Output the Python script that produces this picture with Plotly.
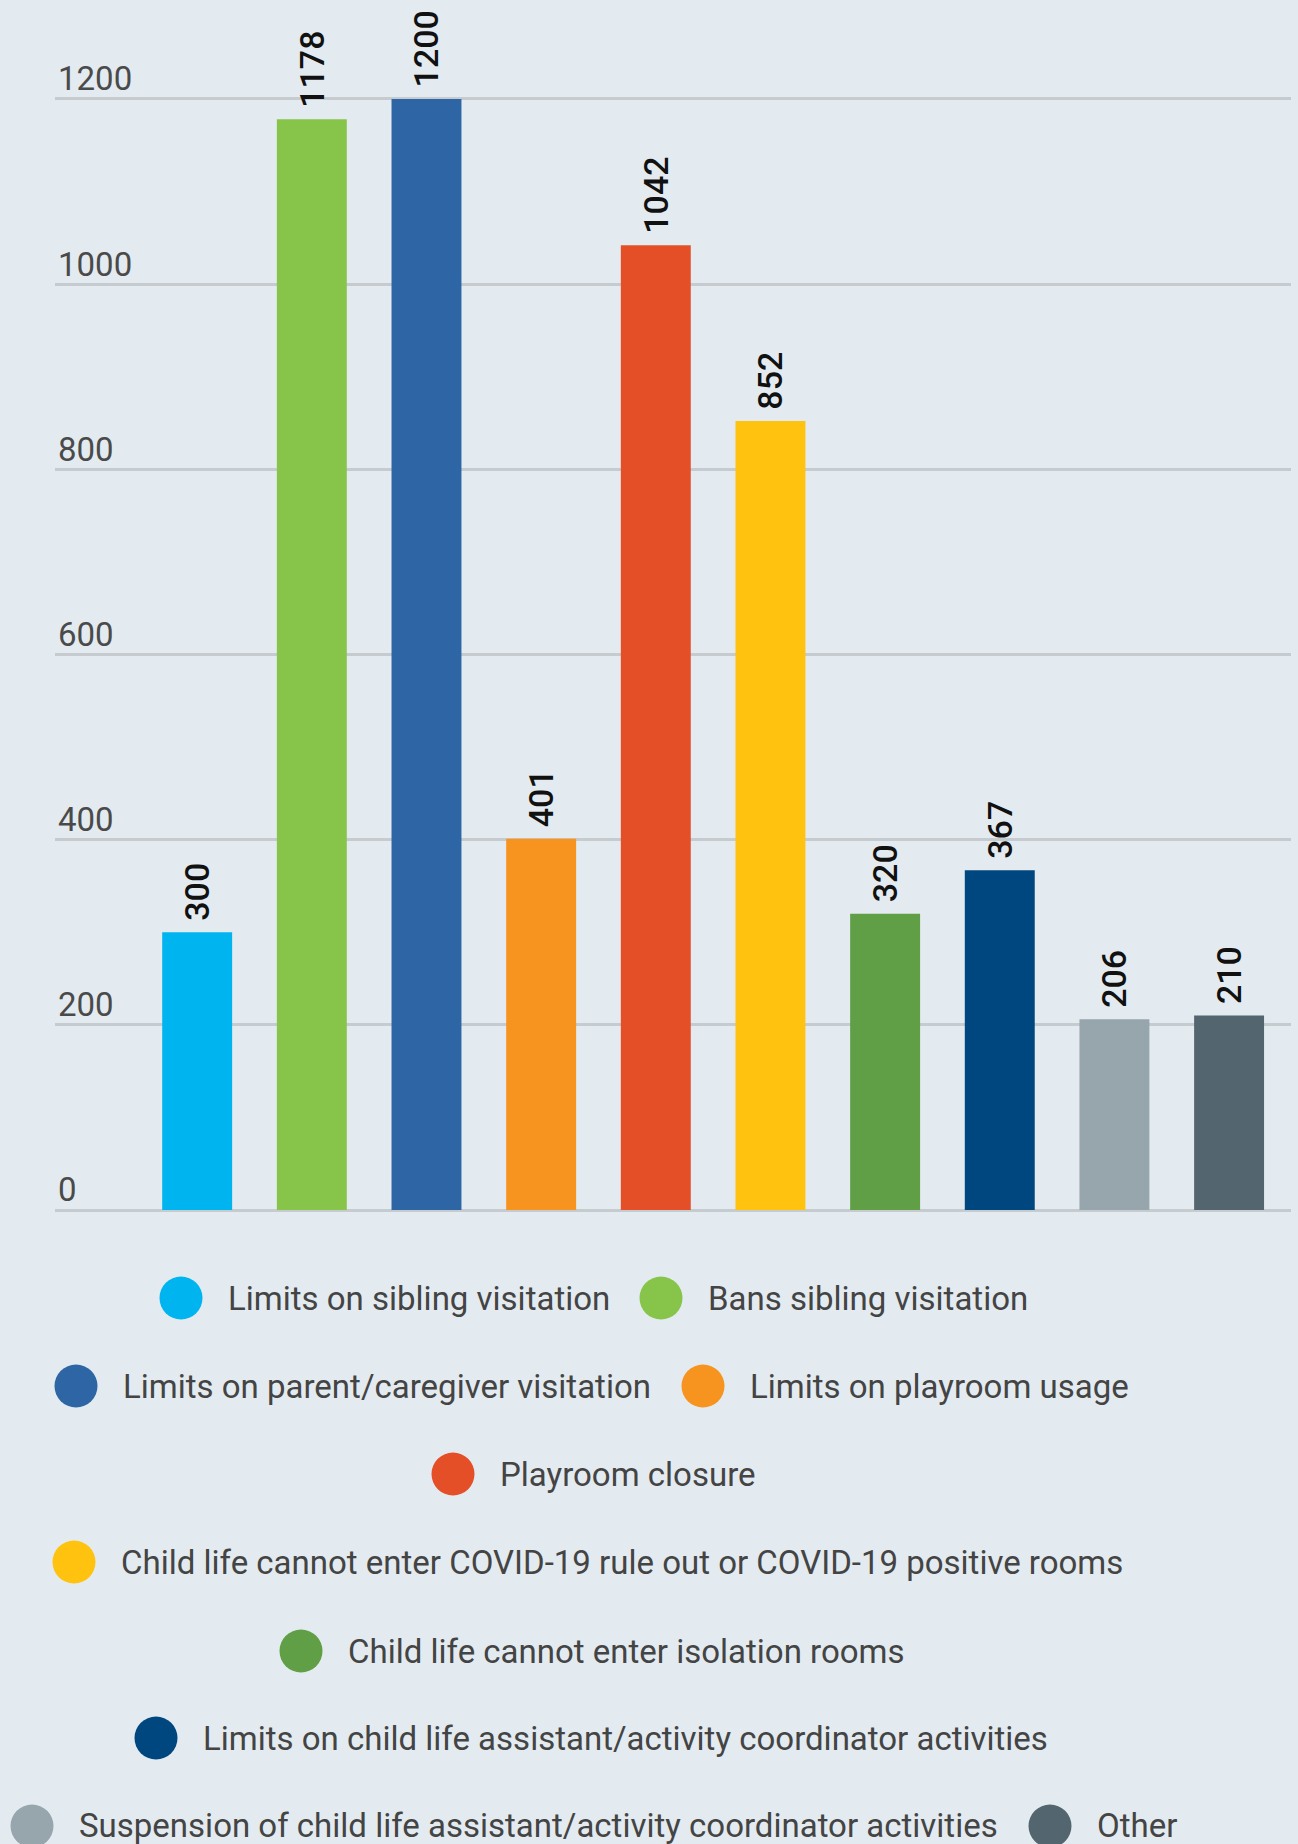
import plotly.graph_objects as go

categories = [
    "Limits on sibling visitation",
    "Bans sibling visitation",
    "Limits on parent/caregiver visitation",
    "Limits on playroom usage",
    "Playroom closure",
    "Child life cannot enter COVID-19 rule out or COVID-19 positive rooms",
    "Child life cannot enter isolation rooms",
    "Limits on child life assistant/activity coordinator activities",
    "Suspension of child life assistant/activity coordinator activities",
    "Other",
]
values = [300, 1178, 1200, 401, 1042, 852, 320, 367, 206, 210]
colors = ["#00b4f0", "#87c44a", "#2e66a5", "#f6941f", "#e54f27",
          "#ffc20f", "#609f45", "#00477f", "#97a5ac", "#53656f"]
y_ticks = [0, 200, 400, 600, 800, 1000, 1200]

# Legend layout (pixel positions of each item's circle centre, and row centres)
legend_rows_y = [1298, 1386, 1474, 1562, 1651, 1738, 1826]
legend_items = [  # (category index, row, circle centre x px)
    (0, 0, 181), (1, 0, 661),
    (2, 1, 76), (3, 1, 703),
    (4, 2, 453),
    (5, 3, 74),
    (6, 4, 301),
    (7, 5, 156),
    (8, 6, 32), (9, 6, 1050),
]

W, H = 1298, 1844
ML, MR, MT, MB = 55, 7, 10, 634
PW, PH = W - ML - MR, H - MT - MB
BG = "#e3ebf0"


def px2x(px):
    return (px - ML) / PW


def px2y(py):
    return (H - MB - py) / PH


fig = go.Figure()
fig.add_trace(go.Bar(
    x=categories,
    y=values,
    marker=dict(color=colors, line=dict(width=0)),
    width=0.61,
    text=[" " + str(v) for v in values],
    texttemplate="%{text}",
    textposition="outside",
    textangle=-90,
    constraintext="none",
    cliponaxis=False,
    textfont=dict(family="Roboto", size=34, color="#111111", weight=500),
    showlegend=False,
    hoverinfo="x+y",
))

shapes = []
annotations = []
R = 21.5
for idx, row, cx in legend_items:
    cy = legend_rows_y[row]
    shapes.append(dict(
        type="circle", xref="paper", yref="paper",
        xsizemode="pixel", ysizemode="pixel",
        xanchor=px2x(cx), yanchor=px2y(cy),
        x0=-R, x1=R, y0=-R, y1=R,
        fillcolor=colors[idx], line=dict(width=0), layer="above",
    ))
    annotations.append(dict(
        xref="paper", yref="paper",
        x=px2x(cx + R + 23), y=px2y(cy),
        xanchor="left", yanchor="middle",
        text=categories[idx], showarrow=False,
        font=dict(family="Roboto", size=33, color="#444444"),
    ))

fig.update_layout(
    width=W, height=H,
    margin=dict(l=ML, r=MR, t=MT, b=MB, pad=0),
    paper_bgcolor=BG, plot_bgcolor=BG,
    bargap=0.39,
    shapes=shapes,
    annotations=annotations,
    xaxis=dict(
        range=[-1.24, 9.54],
        showticklabels=False, showgrid=False, zeroline=False,
        showline=False, ticks="", fixedrange=True,
    ),
    yaxis=dict(
        range=[0, 1296],
        tickvals=y_ticks,
        ticktext=[str(t) for t in y_ticks],
        ticklabelposition="inside top",
        ticklabelshift=3,
        tickfont=dict(family="Roboto", size=33, color="#4a4a4a"),
        showgrid=True, gridcolor="#c5cbce", gridwidth=2.5,
        zeroline=True, zerolinecolor="#c5cbce", zerolinewidth=2.5,
        showline=False, ticks="", fixedrange=True,
    ),
    font=dict(family="Roboto"),
)

fig.write_html(
    "out.html",
    config={"displayModeBar": False},
    post_script="document.body.style.margin='0';document.body.style.background='" + BG + "';",
)
